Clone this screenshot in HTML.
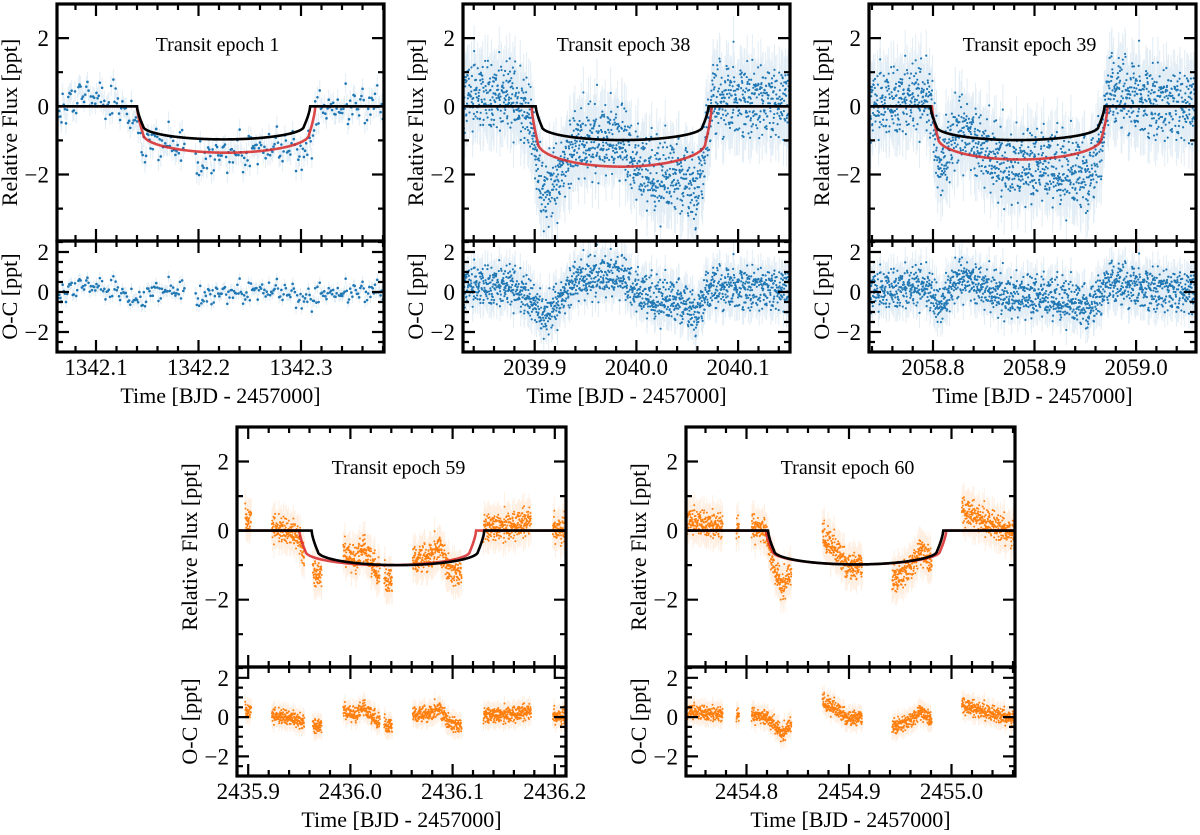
<!DOCTYPE html>
<html><head><meta charset="utf-8">
<style>
html,body{margin:0;padding:0;background:#fff;}
svg{display:block;font-family:"Liberation Serif",serif;}
</style></head>
<body>
<svg id="fig" width="1200" height="835" viewBox="0 0 1200 835" xmlns="http://www.w3.org/2000/svg"></svg>
<script>
// ---------- data ----------
const noiseSeq = [0.3,-1.2,0.8,-0.4,1.6,-0.9,0.1,-1.7,0.6,1.1,-0.2,-0.7,1.3,0.4,-1.4,0.9,-0.1,-0.6,2.0,-1.0,0.5,0.2,-1.9,0.7,-0.3,1.4,-0.8,0.0,1.0,-1.3,0.35,-0.45,1.8,-0.25,-1.1,0.65,0.15,-1.55,1.2,-0.55,0.45,-0.05,-2.1,0.85,0.25,-0.85,1.5,-0.65,0.05,-1.25,0.95,0.55,-0.35,1.15,-1.45,0.75,-0.15,1.7,-0.75,0.4,-0.95];

// panel 1 (epoch 1)
const p1XTicks = [1342.1,1342.2,1342.3];
const p1XTickLabels = ["1342.1","1342.2","1342.3"];
const p1Segments = [[1342.062,1342.187],[1342.197,1342.381]];
const p1TrendT = [1342.062,1342.09,1342.11,1342.14,1342.17,1342.2,1342.25,1342.28,1342.30,1342.33,1342.381];
const p1TrendV = [0,0.3,0.2,-0.4,0.2,-0.2,0,0.1,-0.4,0,0];
const p1Black = [1342.140,1342.309,0.97];
const p1Red = [1342.140,1342.314,1.36];

// panel 2 (epoch 38)
const p2XTicks = [2039.9,2040.0,2040.1];
const p2XTickLabels = ["2039.9","2040.0","2040.1"];
const p2Segments = [[2039.8295,2040.151]];
const p2TrendT = [2039.8295,2039.878,2039.900,2039.909,2039.924,2039.940,2039.974,2039.990,2039.995,2040.021,2040.045,2040.059,2040.071,2040.102,2040.151];
const p2TrendV = [0.3,0.3,-0.6,-1.3,-0.5,0.6,0.8,0.7,0.1,-0.4,-0.5,-1.2,0.2,0.2,0.1];
const p2Black = [2039.901,2040.071,0.99];
const p2Red = [2039.897,2040.074,1.77];

// panel 3 (epoch 39)
const p3XTicks = [2058.8,2058.9,2059.0];
const p3XTickLabels = ["2058.8","2058.9","2059.0"];
const p3Segments = [[2058.737,2059.059]];
const p3TrendT = [2058.737,2058.774,2058.793,2058.807,2058.821,2058.831,2058.850,2058.874,2058.902,2058.926,2058.955,2058.974,2058.993,2059.021,2059.059];
const p3TrendV = [0.0,0.2,0.3,-0.8,0.5,0.7,0.2,-0.3,-0.2,-0.4,-0.8,0.5,0.3,0.1,0];
const p3Black = [2058.7975,2058.969,0.99];
const p3Red = [2058.7990,2058.972,1.56];

// panel 4 (epoch 59)
const p4XTicks = [2435.9,2436.0,2436.1,2436.2];
const p4XTickLabels = ["2435.9","2436.0","2436.1","2436.2"];
const p4Segments = [[2435.897,2435.903],[2435.923,2435.955],[2435.963,2435.972],[2435.993,2436.029],[2436.033,2436.041],[2436.061,2436.109],[2436.130,2436.177],[2436.198,2436.211]];
const p4TrendT = [2435.889,2435.903,2435.923,2435.945,2435.955,2435.968,2435.993,2436.005,2436.012,2436.022,2436.029,2436.037,2436.061,2436.081,2436.086,2436.097,2436.109,2436.130,2436.155,2436.177,2436.205];
const p4TrendV = [0.3,0.3,0.1,-0.1,-0.3,-0.5,0.3,0.1,0.5,0.0,-0.3,-0.5,0.1,0.2,0.5,-0.3,-0.5,0.1,0.1,0.3,0];
const p4Black = [2435.962,2436.131,1.0];
const p4Red = [2435.950,2436.123,1.0];

// panel 5 (epoch 60)
const p5XTicks = [2454.8,2454.9,2455.0];
const p5XTickLabels = ["2454.8","2454.9","2455.0"];
const p5Segments = [[2454.742,2454.777],[2454.790,2454.793],[2454.805,2454.844],[2454.874,2454.913],[2454.942,2454.981],[2455.010,2455.063]];
const p5TrendT = [2454.741,2454.777,2454.805,2454.819,2454.829,2454.835,2454.844,2454.874,2454.890,2454.900,2454.913,2454.942,2454.955,2454.965,2454.969,2454.981,2455.010,2455.030,2455.060];
const p5TrendV = [0.3,0.1,0.1,0.0,-0.5,-0.9,-0.3,0.8,0.3,-0.1,0.0,-0.5,-0.3,0.0,0.3,-0.2,0.6,0.3,-0.1];
const p5Black = [2454.821,2454.992,0.98];
const p5Red = [2454.819,2454.995,0.98];

// ---------- drawing ----------
const NS = "http://www.w3.org/2000/svg";
const svg = document.getElementById('fig');
function el(tag, attrs, parent){
  const e = document.createElementNS(NS, tag);
  for (const k in attrs) e.setAttribute(k, attrs[k]);
  (parent||svg).appendChild(e);
  return e;
}
function model(t, p){
  const t1=p[0], t4=p[1], D=p[2], tau=0.006;
  if (t<=t1 || t>=t4) return 0;
  const mid=(t1+t4)/2, half=(t4-t1)/2, h2=half-tau, d=Math.abs(t-mid);
  if (d<=h2){ const u=d/h2; return -D*(0.6+0.4*Math.sqrt(Math.max(0,1-u*u))); }
  const f=(half-d)/tau; return -D*0.6*Math.pow(f,0.7);
}
function trend(t, T, V){
  if (t<=T[0]) return V[0];
  for (let i=1;i<T.length;i++){ if (t<=T[i]){ const a=(t-T[i-1])/(T[i]-T[i-1]); return V[i-1]+a*(V[i]-V[i-1]); } }
  return V[V.length-1];
}
function noiseAt(i){
  const N=noiseSeq.length;
  const a = noiseSeq[(i*17)%N];
  const b = noiseSeq[(i*i*7 + 3*i + 11)%N];
  const c = noiseSeq[(Math.floor(i/N)*23 + i*5 + 2)%N];
  return a*0.55 + b*0.55 + c*0.45;
}
let clipId=0;
function panel(c){
  const g = el('g', {});
  
  
  const xs = t => c.x0 + (t-c.xmin)/(c.xmax-c.xmin)*(c.x1-c.x0);
  const ysU = v => c.yT + (3.0 - v)/(3.0+3.95)*(c.yD-c.yT);
  const ysL = v => c.yD + (2.55 - v)/(2.55+3.0)*(c.yB-c.yD);
  const idU='cu'+(clipId), idL='cl'+(clipId++);
  const defs = el('defs',{},g);
  const cu = el('clipPath',{id:idU},defs); el('rect',{x:c.x0,y:c.yT,width:c.x1-c.x0,height:c.yD-c.yT},cu);
  const cl = el('clipPath',{id:idL},defs); el('rect',{x:c.x0,y:c.yD,width:c.x1-c.x0,height:c.yB-c.yD},cl);
  let eU='',eL='',pU='',pL='',i=0;
  for (let t=c.xmin; t<=c.xmax; t+=c.step, i++){
    let inside=false;
    for (const s of c.seg){ if (t>=s[0] && t<=s[1]) { inside=true; break; } }
    if (!inside) continue;
    const oc = trend(t,c.tT,c.tV) + noiseAt(i)*c.sigma;
    const fl = model(t,c.red) + oc;
    const x = xs(t).toFixed(2);
    const yu=ysU(fl), yl=ysL(oc);
    const ebU=c.eb*34.5, ebL=c.eb*20;
    eU += `M${x} ${(yu-ebU).toFixed(1)}V${(yu+ebU).toFixed(1)}`;
    eL += `M${x} ${(yl-ebL).toFixed(1)}V${(yl+ebL).toFixed(1)}`;
    const r=c.r;
    pU += `M${(+x-r).toFixed(2)} ${yu.toFixed(2)}a${r} ${r} 0 1 0 ${2*r} 0a${r} ${r} 0 1 0 ${-2*r} 0`;
    pL += `M${(+x-r).toFixed(2)} ${yl.toFixed(2)}a${r} ${r} 0 1 0 ${2*r} 0a${r} ${r} 0 1 0 ${-2*r} 0`;
  }
  const gu = el('g',{'clip-path':`url(#${idU})`},g);
  const gl = el('g',{'clip-path':`url(#${idL})`},g);
  let e1 = el('path',{d:eU,stroke:c.ebColor,'stroke-width':1,fill:'none'},gu);
   
  let d1 = el('path',{d:pU,fill:c.color},gu);
   
  let e2 = el('path',{d:eL,stroke:c.ebColor,'stroke-width':1,fill:'none'},gl);
   
  let d2 = el('path',{d:pL,fill:c.color},gl);
   
  const mline = (p) => { let d=''; for (let t=c.xmin;t<=c.xmax;t+=0.0005){ d+=(d?'L':'M')+xs(t).toFixed(2)+' '+ysU(model(t,p)).toFixed(2);} return d; };
  let mr = el('path',{d:mline(c.red),stroke:'#d62728','stroke-opacity':0.85,'stroke-width':2.6,fill:'none'},gu);
   
  let mb = el('path',{d:mline(c.black),stroke:'#000','stroke-width':2.6,fill:'none'},gu);
   
  let tk='';
  const xMinorStart = Math.ceil(c.xmin/0.02)*0.02;
  for (let t=xMinorStart; t<=c.xmax+1e-9; t+=0.02){
    const x=xs(t).toFixed(1);
    const major = c.xt.some(v=>Math.abs(v-t)<1e-6);
    const L = major?12:6;
    for (const y0 of [c.yT,c.yD]) tk+=`M${x} ${y0}v${L}`;
    for (const y0 of [c.yD,c.yB]) tk+=`M${x} ${y0}v${-L}`;
  }
  for (let v=-3; v<=3; v+=1){
    const y=ysU(v).toFixed(1); const L=(v%2===0)?12:6;
    tk+=`M${c.x0} ${y}h${L}M${c.x1} ${y}h${-L}`;
  }
  for (let v=-2.5; v<=2.5; v+=0.5){
    const y=ysL(v).toFixed(1); const L=(Math.abs(v%2)<1e-9)?12:6;
    tk+=`M${c.x0} ${y}h${L}M${c.x1} ${y}h${-L}`;
  }
  el('path',{d:tk,stroke:'#000','stroke-width':2.2,fill:'none'},g);
  let fu = el('rect',{x:c.x0,y:c.yT,width:c.x1-c.x0,height:c.yD-c.yT,fill:'none',stroke:'#000','stroke-width':3.2},g);
   
  let fl2 = el('rect',{x:c.x0,y:c.yD,width:c.x1-c.x0,height:c.yB-c.yD,fill:'none',stroke:'#000','stroke-width':3.2},g);
   
  c.xt.forEach((v,k)=>{
    const t = el('text',{x:xs(v),y:c.yB+23,'text-anchor':'middle','font-size':23},g);
    t.textContent = c.xl[k];
     
  });
  [[2,'2'],[0,'0'],[-2,'\u22122']].forEach(([v,s])=>{
    const t = el('text',{x:c.x0-8,y:ysU(v)+8,'text-anchor':'end','font-size':23},g);
    t.textContent=s;  
    const t2 = el('text',{x:c.x0-8,y:ysL(v)+8,'text-anchor':'end','font-size':23},g);
    t2.textContent=s;  
  });
  const xc=(c.x0+c.x1)/2;
  let xt = el('text',{x:xc,y:c.yB+51,'text-anchor':'middle','font-size':22},g);
  xt.textContent='Time [BJD - 2457000]';  
  const lx=c.x0-40;
  let yt = el('text',{x:lx,y:(c.yT+c.yD)/2,'text-anchor':'middle','font-size':22,transform:`rotate(-90 ${lx} ${(c.yT+c.yD)/2})`},g);
  yt.textContent='Relative Flux [ppt]';  
  let yt2 = el('text',{x:lx,y:(c.yD+c.yB)/2,'text-anchor':'middle','font-size':22,transform:`rotate(-90 ${lx} ${(c.yD+c.yB)/2})`},g);
  yt2.textContent='O-C [ppt]';  
  let tt = el('text',{x:xc-3,y:c.yT+47,'text-anchor':'middle','font-size':20},g);
  tt.textContent=c.title;  
}
const blue='#1f77b4', blueEb='rgba(31,119,180,0.13)', orange='#ff7f0e', orEb='rgba(255,127,14,0.12)';
panel({name:'panel-epoch-1',title:'Transit epoch 1',x0:57,x1:384,yT:4,yD:241,yB:352,xmin:1342.062,xmax:1342.381,xt:p1XTicks,xl:p1XTickLabels,seg:p1Segments,tT:p1TrendT,tV:p1TrendV,black:p1Black,red:p1Red,step:0.0011,sigma:0.33,eb:0.3,r:1.3,color:blue,ebColor:blueEb});
panel({name:'panel-epoch-38',title:'Transit epoch 38',x0:463,x1:790,yT:4,yD:241,yB:352,xmin:2039.8295,xmax:2040.151,xt:p2XTicks,xl:p2XTickLabels,seg:p2Segments,tT:p2TrendT,tV:p2TrendV,black:p2Black,red:p2Red,step:0.00022,sigma:0.6,eb:0.75,r:1.1,color:blue,ebColor:blueEb});
panel({name:'panel-epoch-39',title:'Transit epoch 39',x0:869,x1:1196,yT:4,yD:241,yB:352,xmin:2058.737,xmax:2059.059,xt:p3XTicks,xl:p3XTickLabels,seg:p3Segments,tT:p3TrendT,tV:p3TrendV,black:p3Black,red:p3Red,step:0.00022,sigma:0.6,eb:0.75,r:1.1,color:blue,ebColor:blueEb});
panel({name:'panel-epoch-59',title:'Transit epoch 59',x0:237,x1:566,yT:427,yD:667,yB:776,xmin:2435.889,xmax:2436.211,xt:p4XTicks,xl:p4XTickLabels,seg:p4Segments,tT:p4TrendT,tV:p4TrendV,black:p4Black,red:p4Red,step:0.00016,sigma:0.22,eb:0.4,r:1.0,color:orange,ebColor:orEb});
panel({name:'panel-epoch-60',title:'Transit epoch 60',x0:686,x1:1015,yT:427,yD:667,yB:776,xmin:2454.741,xmax:2455.062,xt:p5XTicks,xl:p5XTickLabels,seg:p5Segments,tT:p5TrendT,tV:p5TrendV,black:p5Black,red:p5Red,step:0.00016,sigma:0.22,eb:0.4,r:1.0,color:orange,ebColor:orEb});
</script>
</body></html>
